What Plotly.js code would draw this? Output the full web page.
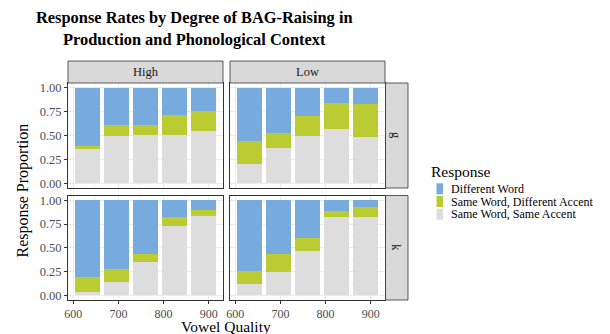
<!DOCTYPE html>
<html>
<head>
<meta charset="utf-8">
<script src="https://cdn.plot.ly/plotly-3.0.1.min.js"></script>
<style>html,body{margin:0;padding:0;background:#fff;}#chart{width:610px;height:334px;}</style>
</head>
<body>
<div id="chart"></div>
<script>
// ---- data ----
const vowelQuality = [632, 696, 760, 824, 888];
const productions = ["High", "Low"];
const contexts = ["g", "k"];
const responses = ["Different Word", "Same Word, Different Accent", "Same Word, Same Accent"];
const responseColors = ["#77AADD", "#BBCC33", "#DDDDDD"];

// proportions per panel (order matches responses)
const highG_diffWord   = [0.61, 0.39, 0.395, 0.28, 0.245];
const highG_sameDiff   = [0.035, 0.12, 0.10, 0.215, 0.205];
const highG_sameSame   = [0.355, 0.49, 0.505, 0.505, 0.55];

const lowG_diffWord    = [0.555, 0.47, 0.295, 0.16, 0.17];
const lowG_sameDiff    = [0.245, 0.165, 0.21, 0.27, 0.35];
const lowG_sameSame    = [0.20, 0.365, 0.495, 0.57, 0.48];

const highK_diffWord   = [0.81, 0.72, 0.565, 0.18, 0.105];
const highK_sameDiff   = [0.16, 0.14, 0.09, 0.095, 0.065];
const highK_sameSame   = [0.03, 0.14, 0.345, 0.725, 0.83];

const lowK_diffWord    = [0.745, 0.565, 0.40, 0.115, 0.075];
const lowK_sameDiff    = [0.135, 0.195, 0.13, 0.065, 0.105];
const lowK_sameSame    = [0.12, 0.24, 0.47, 0.82, 0.82];

const xTicks = [600, 700, 800, 900];
const yTicks = [0, 0.25, 0.5, 0.75, 1];

// ---- build ----
const W = 610, H = 334;
const px = v => v / W;
const py = v => (H - v) / H;
const FONT = "Liberation Serif, serif";

const panels = [
  {ax: "", data: [highG_diffWord, highG_sameDiff, highG_sameSame]},
  {ax: "2", data: [lowG_diffWord, lowG_sameDiff, lowG_sameSame]},
  {ax: "3", data: [highK_diffWord, highK_sameDiff, highK_sameSame]},
  {ax: "4", data: [lowK_diffWord, lowK_sameDiff, lowK_sameSame]}
];

const traces = [];
panels.forEach(p => {
  // stack bottom-up: Same Accent, Different Accent, Different Word
  [2, 1, 0].forEach(r => {
    traces.push({
      type: "bar",
      x: vowelQuality,
      y: p.data[r],
      width: 56,
      xaxis: "x" + p.ax,
      yaxis: "y" + p.ax,
      marker: {color: responseColors[r], line: {width: 0}},
      name: responses[r],
      showlegend: false,
      hoverinfo: "skip"
    });
  });
});

const colX = [[68, 223], [230, 385]];
const rowY = [[83, 188], [195.5, 300]];

function xAxis(col, bottom) {
  return {
    domain: [px(colX[col][0]), px(colX[col][1])],
    range: [588.4, 931.6],
    tickmode: "array", tickvals: xTicks,
    showticklabels: bottom,
    ticks: bottom ? "outside" : "", ticklen: 3, tickcolor: "#333333", tickwidth: 1,
    showgrid: true, gridcolor: "#EBEBEB", gridwidth: 1,
    minor: {tickmode: "array", tickvals: [650, 750, 850], showgrid: true, gridcolor: "#EBEBEB", gridwidth: 0.5},
    showline: true, mirror: true, linecolor: "#333333", linewidth: 1,
    zeroline: false, fixedrange: true,
    tickfont: {family: FONT, size: 12, color: "#4D4D4D"}
  };
}
function yAxis(row, left, anchorX) {
  return {
    domain: [py(rowY[row][1]), py(rowY[row][0])],
    range: [-0.05, 1.05],
    tickmode: "array", tickvals: yTicks, tickformat: ".2f",
    showticklabels: left,
    ticks: left ? "outside" : "", ticklen: 3, tickcolor: "#333333", tickwidth: 1,
    showgrid: true, gridcolor: "#EBEBEB", gridwidth: 1,
    minor: {tickmode: "array", tickvals: [0.125, 0.375, 0.625, 0.875], showgrid: true, gridcolor: "#EBEBEB", gridwidth: 0.5},
    showline: true, mirror: true, linecolor: "#333333", linewidth: 1,
    zeroline: false, fixedrange: true,
    anchor: anchorX,
    tickfont: {family: FONT, size: 12.5, color: "#4D4D4D"}
  };
}

const layout = {
  width: W, height: H,
  margin: {l: 0, r: 0, t: 0, b: 0},
  paper_bgcolor: "#FFFFFF", plot_bgcolor: "#FFFFFF",
  barmode: "stack", bargap: 0,
  showlegend: false,
  font: {family: FONT},
  xaxis:  Object.assign(xAxis(0, false), {anchor: "y"}),
  xaxis2: Object.assign(xAxis(1, false), {anchor: "y2"}),
  xaxis3: Object.assign(xAxis(0, true), {anchor: "y3"}),
  xaxis4: Object.assign(xAxis(1, true), {anchor: "y4"}),
  yaxis:  yAxis(0, true, "x"),
  yaxis2: yAxis(0, false, "x2"),
  yaxis3: yAxis(1, true, "x3"),
  yaxis4: yAxis(1, false, "x4"),
  shapes: [],
  annotations: []
};

// strips
const stripFill = "#D9D9D9", stripLine = "#333333";
productions.forEach((p, i) => {
  layout.shapes.push({type: "rect", xref: "paper", yref: "paper",
    x0: px(colX[i][0]), x1: px(colX[i][1]), y0: py(83), y1: py(61),
    fillcolor: stripFill, line: {color: stripLine, width: 0.8}});
  layout.annotations.push({xref: "paper", yref: "paper", x: px((colX[i][0] + colX[i][1]) / 2), y: py(72),
    text: p, showarrow: false, xanchor: "center", yanchor: "middle",
    font: {family: FONT, size: 12.5, color: "#1A1A1A"}});
});
contexts.forEach((c, i) => {
  layout.shapes.push({type: "rect", xref: "paper", yref: "paper",
    x0: px(385.5), x1: px(408), y0: py(rowY[i][1]), y1: py(rowY[i][0]),
    fillcolor: stripFill, line: {color: stripLine, width: 0.8}});
  layout.annotations.push({xref: "paper", yref: "paper", x: px(396.5), y: py((rowY[i][0] + rowY[i][1]) / 2),
    text: c, showarrow: false, xanchor: "center", yanchor: "middle", textangle: 90,
    font: {family: FONT, size: 12.5, color: "#1A1A1A"}});
});

// titles
layout.annotations.push({xref: "paper", yref: "paper", x: px(194), y: py(17), text: "<b>Response Rates by Degree of BAG-Raising in</b>",
  showarrow: false, xanchor: "center", yanchor: "middle", font: {family: FONT, size: 16.4, color: "#000000"}});
layout.annotations.push({xref: "paper", yref: "paper", x: px(194), y: py(40), text: "<b>Production and Phonological Context</b>",
  showarrow: false, xanchor: "center", yanchor: "middle", font: {family: FONT, size: 16.4, color: "#000000"}});
layout.annotations.push({xref: "paper", yref: "paper", x: px(226), y: py(326.5), text: "Vowel Quality",
  showarrow: false, xanchor: "center", yanchor: "middle", font: {family: FONT, size: 15.5, color: "#000000"}});
layout.annotations.push({xref: "paper", yref: "paper", x: px(22), y: py(190.5), text: "Response Proportion", textangle: -90,
  showarrow: false, xanchor: "center", yanchor: "middle", font: {family: FONT, size: 16, color: "#000000"}});

// legend (manual)
layout.annotations.push({xref: "paper", yref: "paper", x: px(429), y: py(171), text: "Response",
  showarrow: false, xanchor: "left", yanchor: "middle", font: {family: FONT, size: 15.5, color: "#000000"}});
responses.forEach((r, i) => {
  const yc = 188.8 + i * 12.7;
  layout.shapes.push({type: "rect", xref: "paper", yref: "paper",
    x0: px(436.5), x1: px(443), y0: py(yc + 5.5), y1: py(yc - 5.5),
    fillcolor: responseColors[i], line: {width: 0}});
  layout.annotations.push({xref: "paper", yref: "paper", x: px(449), y: py(yc), text: r,
    showarrow: false, xanchor: "left", yanchor: "middle", font: {family: FONT, size: 12, color: "#000000"}});
});

Plotly.newPlot("chart", traces, layout, {staticPlot: true, displayModeBar: false});
</script>
</body>
</html>
